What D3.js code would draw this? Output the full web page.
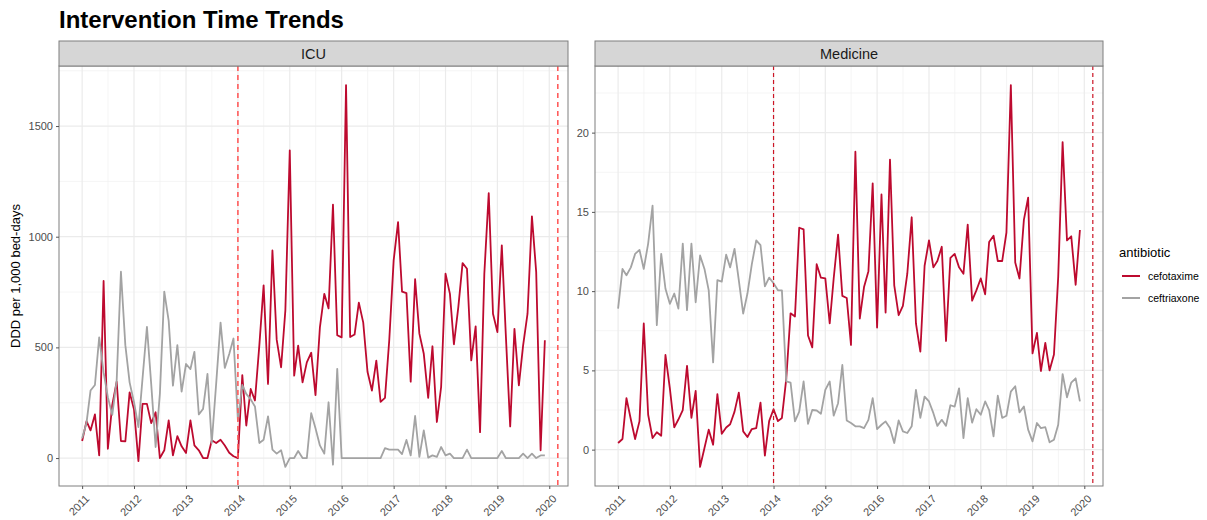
<!DOCTYPE html>
<html>
<head>
<meta charset="utf-8">
<script src="https://cdn.jsdelivr.net/npm/d3@7"></script>
<style>
  body { margin: 0; background: #fff; }
  svg { font-family: "Liberation Sans", Arial, sans-serif; }
</style>
</head>
<body>
<div id="chart"></div>
<script>
// monthly values, Jan 2011 .. Dec 2019
const icuCefotaxime = [
  77, 167, 125, 197, 12, 800, 42, 240, 345, 77, 75, 297,
  220, -14, 245, 245, 158, 207, 0, 35, 170, 12, 99, 53,
  23, 170, 57, 35, 0, 0, 80, 68, 83, 57, 24, 8,
  0, 375, 147, 312, 260, 510, 780, 335, 938, 535, 410, 667,
  1390, 372, 508, 342, 432, 476, 284, 590, 742, 676, 1145, 555,
  545, 1685, 547, 558, 702, 612, 390, 305, 440, 254, 272, 532,
  893, 1066, 752, 745, 345, 808, 562, 471, 272, 505, 163, 321,
  833, 742, 514, 682, 881, 855, 441, 595, 117, 833, 1197, 652,
  569, 961, 560, 143, 584, 328, 509, 652, 1092, 840, 35, 532
];
const icuCeftriaxone = [
  90, 160, 305, 330, 545, 387, 275, 195, 350, 842, 510, 342,
  252, 140, 360, 593, 335, 50, 290, 752, 620, 327, 510, 300,
  425, 402, 480, 197, 222, 380, 68, 335, 612, 407, 470, 540,
  170, 330, 290, 265, 233, 68, 83, 188, 38, 20, 35, -40,
  0, 0, 32, 0, 0, 203, 135, 57, 20, 252, -30, 403,
  0, 0, 0, 0, 0, 0, 0, 0, 0, 0, 45, 38,
  38, 38, 18, 82, 12, 190, 5, 125, 2, 12, 5, 50,
  12, 20, 0, 0, 0, 38, 0, 0, 0, 0, 0, 0,
  0, 32, 0, 0, 0, 0, 20, 0, 20, 0, 12, 12
];
const medCefotaxime = [
  0.42, 0.67, 3.25, 1.9, 0.67, 1.8, 7.96, 2.2, 0.73, 1.1, 0.88, 5.97,
  3.87, 1.4, 1.9, 2.5, 5.28, 2.0, 3.7, -1.09, 0.1, 1.26, 0.31, 3.5,
  1.0, 1.4, 1.6, 2.4, 3.6, 1.15, 0.8, 1.3, 1.36, 2.97, -0.38, 1.8,
  2.55, 1.8, 2.0, 4.5, 8.6, 8.4, 14.0, 13.9, 7.2, 6.45, 11.7, 10.85,
  10.8, 7.96, 10.8, 13.57, 9.7, 9.57, 6.6, 18.8, 8.27, 10.26, 11.26, 16.8,
  7.7, 16.1, 8.65, 18.3, 10.36, 8.48, 9.07, 11.1, 14.66, 7.96, 6.18, 11.6,
  13.2, 11.5, 11.9, 12.8, 6.85, 12.1, 12.35, 11.5, 11.1, 14.2, 9.4, 10.05,
  10.8, 9.8, 13.1, 13.5, 11.9, 11.9, 13.7, 23.0, 11.8, 10.8, 14.5, 15.9,
  6.07, 7.37, 4.96, 6.74, 5.0, 6.0, 10.9, 19.4, 13.2, 13.46, 10.4, 13.86
];
const medCeftriaxone = [
  8.9, 11.4, 11.0, 11.5, 12.35, 12.6, 11.4, 13.0, 15.4, 7.85, 12.35, 10.15,
  9.2, 9.85, 8.9, 13.0, 8.8, 13.0, 9.3, 12.25, 11.4, 10.05, 5.5, 10.7,
  10.6, 12.3, 11.5, 12.67, 10.7, 8.58, 9.85, 11.7, 13.2, 12.9, 10.3, 10.85,
  10.5, 10.05, 10.05, 4.3, 4.23, 1.78, 2.4, 4.3, 1.63, 2.5, 2.47, 2.26,
  3.77, 4.3, 2.14, 2.93, 5.34, 1.84, 1.68, 1.47, 1.47, 1.36, 1.88, 3.25,
  1.3, 1.57, 1.78, 1.36, 0.42, 1.84, 1.15, 1.05, 1.47, 3.77, 2.0, 3.35,
  3.04, 2.3, 1.5, 1.88, 1.5, 2.8, 2.72, 3.87, 0.73, 3.25, 1.7, 2.55,
  2.2, 3.04, 2.5, 0.84, 3.4, 2.0, 2.14, 3.66, 4.0, 2.35, 2.72, 1.26,
  0.52, 1.68, 1.36, 1.42, 0.46, 0.63, 1.57, 4.77, 3.3, 4.23, 4.5, 3.04
];
const antibiotics = ["cefotaxime", "ceftriaxone"];
const colors = ["#BD0A2F", "#A3A3A3"];
const interventionDates = [new Date(2014, 0, 1), new Date(2020, 2, 1)];

const months = d3.range(icuCefotaxime.length).map(i => new Date(2011, i, 1));

const panels = [
  { name: "ICU", series: [icuCefotaxime, icuCeftriaxone], left: 59, right: 568,
    yTicks: [0, 500, 1000, 1500], vColor: "#FF5C5C", vWidth: 1.6, vDash: "5,4" },
  { name: "Medicine", series: [medCefotaxime, medCeftriaxone], left: 595, right: 1103,
    yTicks: [0, 5, 10, 15, 20], vColor: "#CC1525", vWidth: 1.2, vDash: "4,3" }
];

const W = 1207, H = 520;
const panelTop = 66, panelBottom = 486, stripTop = 41;

const svg = d3.select("#chart").append("svg")
  .attr("width", W).attr("height", H);

svg.append("text")
  .attr("x", 59).attr("y", 28)
  .attr("font-size", 24).attr("font-weight", "bold")
  .attr("fill", "#000")
  .text("Intervention Time Trends");

svg.append("text")
  .attr("transform", `translate(20, ${(panelTop + panelBottom) / 2}) rotate(-90)`)
  .attr("text-anchor", "middle")
  .attr("font-size", 13)
  .attr("fill", "#000")
  .text("DDD per 1,000 bed-days");

// ggplot-like 5% expansion
function expand(ext) {
  const d = (ext[1] - ext[0]) * 0.05;
  return [ext[0] - d, ext[1] + d];
}

const tExt = d3.extent(months, d => +d);
const tDom = expand(tExt).map(v => new Date(v));

panels.forEach(p => {
  const x = d3.scaleTime().domain(tDom).range([p.left, p.right]);
  const all = p.series.flat();
  const y = d3.scaleLinear().domain(expand(d3.extent(all))).range([panelBottom, panelTop]);

  const g = svg.append("g");

  // grid
  const yStep = p.yTicks[1] - p.yTicks[0];
  const yMinor = d3.range(p.yTicks[0] - yStep / 2, y.domain()[1], yStep)
    .filter(v => v > y.domain()[0] && v < y.domain()[1]);
  g.selectAll(".ymin").data(yMinor).join("line")
    .attr("x1", p.left).attr("x2", p.right)
    .attr("y1", d => y(d)).attr("y2", d => y(d))
    .attr("stroke", "#F2F2F2").attr("stroke-width", 0.8);

  const years = d3.timeYear.range(new Date(2011, 0, 1), new Date(2021, 0, 1));
  const xMinor = years.map(d => new Date(d.getFullYear(), 6, 2))
    .filter(d => d > tDom[0] && d < tDom[1]);
  g.selectAll(".xmin").data(xMinor).join("line")
    .attr("x1", d => x(d)).attr("x2", d => x(d))
    .attr("y1", panelTop).attr("y2", panelBottom)
    .attr("stroke", "#F2F2F2").attr("stroke-width", 0.8);

  g.selectAll(".ymaj").data(p.yTicks).join("line")
    .attr("x1", p.left).attr("x2", p.right)
    .attr("y1", d => y(d)).attr("y2", d => y(d))
    .attr("stroke", "#EBEBEB").attr("stroke-width", 1.2);
  g.selectAll(".xmaj").data(years).join("line")
    .attr("x1", d => x(d)).attr("x2", d => x(d))
    .attr("y1", panelTop).attr("y2", panelBottom)
    .attr("stroke", "#EBEBEB").attr("stroke-width", 1.2);

  // lines
  const line = d3.line().x((d, i) => x(months[i])).y(d => y(d));
  p.series.forEach((s, k) => {
    g.append("path")
      .datum(s)
      .attr("d", line)
      .attr("fill", "none")
      .attr("stroke", colors[k])
      .attr("stroke-width", 1.8)
      .attr("stroke-linejoin", "round");
  });

  // intervention lines
  g.selectAll(".vline").data(interventionDates).join("line")
    .attr("x1", d => x(d)).attr("x2", d => x(d))
    .attr("y1", panelTop).attr("y2", panelBottom)
    .attr("stroke", p.vColor).attr("stroke-width", p.vWidth)
    .attr("stroke-dasharray", p.vDash);

  // border
  g.append("rect")
    .attr("x", p.left).attr("y", panelTop)
    .attr("width", p.right - p.left).attr("height", panelBottom - panelTop)
    .attr("fill", "none").attr("stroke", "#7F7F7F").attr("stroke-width", 1);

  // strip
  g.append("rect")
    .attr("x", p.left).attr("y", stripTop)
    .attr("width", p.right - p.left).attr("height", panelTop - stripTop)
    .attr("fill", "#D6D6D6").attr("stroke", "#7F7F7F").attr("stroke-width", 1);
  g.append("text")
    .attr("x", (p.left + p.right) / 2).attr("y", (stripTop + panelTop) / 2 + 5)
    .attr("text-anchor", "middle")
    .attr("font-size", 14.5).attr("fill", "#1A1A1A")
    .text(p.name);

  // axes
  const yAxis = d3.axisLeft(y).tickValues(p.yTicks).tickFormat(d3.format("d"))
    .tickSize(3).tickPadding(3);
  const ya = svg.append("g").attr("transform", `translate(${p.left},0)`).call(yAxis);
  const xAxis = d3.axisBottom(x).ticks(d3.timeYear.every(1))
    .tickFormat(d3.timeFormat("%Y")).tickSize(3).tickPadding(2);
  const xa = svg.append("g").attr("transform", `translate(0,${panelBottom})`).call(xAxis);
  [ya, xa].forEach(a => {
    a.select(".domain").remove();
    a.selectAll(".tick line").attr("stroke", "#555");
    a.selectAll(".tick text").attr("fill", "#4D4D4D").attr("font-size", 11)
      .attr("font-family", "Liberation Sans, Arial, sans-serif");
  });
  xa.selectAll(".tick text")
    .attr("text-anchor", "end")
    .attr("dx", 0).attr("dy", 0)
    .attr("transform", "translate(4,10) rotate(-45)");
});

// legend
const lg = svg.append("g").attr("transform", "translate(1119,0)");
lg.append("text").attr("x", 0).attr("y", 257)
  .attr("font-size", 13).attr("fill", "#000").text("antibiotic");
antibiotics.forEach((a, i) => {
  const yy = 276 + i * 22;
  lg.append("line").attr("x1", 3).attr("x2", 21).attr("y1", yy).attr("y2", yy)
    .attr("stroke", colors[i]).attr("stroke-width", 2);
  lg.append("text").attr("x", 29).attr("y", yy + 4)
    .attr("font-size", 10.5).attr("fill", "#000").text(a);
});
</script>
</body>
</html>
